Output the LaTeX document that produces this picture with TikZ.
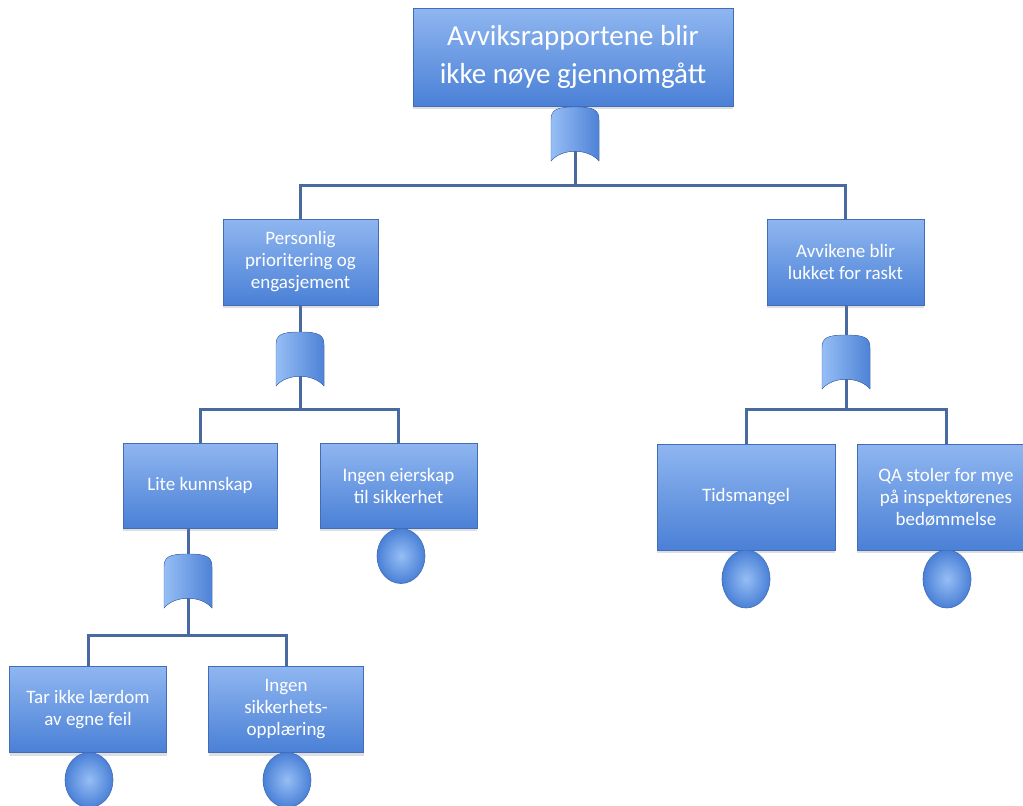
\documentclass[tikz,border=0pt]{standalone}
\usepackage{fontspec}
\setmainfont{Carlito}
\usetikzlibrary{backgrounds,shadows,shapes.geometric}

\definecolor{boxtop}{RGB}{143,182,240}
\definecolor{boxbot}{RGB}{74,128,214}
\definecolor{boxedge}{RGB}{66,108,184}
\definecolor{wire}{RGB}{72,106,160}
\definecolor{gateL}{RGB}{150,190,245}
\definecolor{gateR}{RGB}{78,130,215}

\tikzset{
  x=1pt, y=-1pt,
  event/.style={rectangle, draw=boxedge, line width=0.8pt,
    top color=boxtop, bottom color=boxbot, text=white, align=center,
    font=\fontsize{19}{22}\selectfont, inner sep=2pt,
    drop shadow={opacity=0.25, shadow xshift=0pt, shadow yshift=-3pt}},
  topevent/.style={event, font=\fontsize{29}{38}\selectfont,
    minimum width=320pt, minimum height=98pt},
  gatebody/.style={left color=gateL, right color=gateR,
    draw=boxedge, line width=0.4pt},
  basicevent/.style={ellipse, minimum width=48pt, minimum height=55pt,
    inner sep=0pt, draw=boxedge, line width=0.6pt,
    inner color=gateL, outer color=boxbot},
  wireline/.style={draw=wire, line width=3pt},
  % OR gate: rounded top, concave bottom; its anchor node is <name>-g
  pics/orgate/.style={code={
    \fill[gatebody]
      (-24,27) -- (-24,-14)
      .. controls (-24,-24) and (-19,-27) .. (0,-27)
      .. controls (19,-27) and (24,-24) .. (24,-14)
      -- (24,27)
      .. controls (13,14) and (-13,14) .. (-24,27) -- cycle;
    \node[inner sep=0pt, minimum width=48pt, minimum height=54pt] (-g) at (0,0) {};
  }}
}

\begin{document}
\begin{tikzpicture}
\useasboundingbox (0,0) rectangle (1023,806);

% top event and its gate
\node[topevent] (top) at (573,57) {Avviksrapportene blir\\ikke nøye gjennomgått};
\pic (g0) at (575,134) {orgate};

% second level
\node[event, minimum width=155pt, minimum height=86pt] (pers) at (300.5,262)
  {Personlig\\prioritering og\\engasjement};
\node[event, minimum width=157pt, minimum height=86pt] (avv) at (845.5,262)
  {Avvikene blir\\lukket for raskt};
\pic (g1) at (300,359) {orgate};
\pic (g3) at (846,362) {orgate};

% third level, left branch
\node[event, minimum width=154pt, minimum height=85pt] (lite) at (200,485.5)
  {Lite kunnskap};
\node[event, minimum width=157pt, minimum height=85pt] (eier) at (398.5,485.5)
  {Ingen eierskap\\til sikkerhet};
\node[basicevent] (c1) at (401,556) {};
\pic (g2) at (188,581) {orgate};

% fourth level
\node[event, minimum width=157pt, minimum height=86pt] (tar) at (88,709.5)
  {Tar ikke lærdom\\av egne feil};
\node[event, minimum width=155pt, minimum height=86pt] (sikk) at (286,709.5)
  {Ingen\\sikkerhets-\\opplæring};
\node[basicevent] (c2) at (89,780) {};
\node[basicevent] (c3) at (287,780) {};

% third level, right branch
\node[event, minimum width=178pt, minimum height=106pt] (tids) at (746,497)
  {Tidsmangel};
\node[event, minimum width=178pt, minimum height=106pt] (qa) at (946,497)
  {QA stoler for mye\\på inspektørenes\\bedømmelse};
\node[basicevent, minimum height=58pt] (c4) at (746,579) {};
\node[basicevent, minimum height=58pt] (c5) at (947,579) {};

% branching points
\coordinate (b0) at (g0-g.center |- 0,185);
\coordinate (b1) at (g1-g.center |- 0,409);
\coordinate (b2) at (g2-g.center |- 0,635);
\coordinate (b3) at (g3-g.center |- 0,409);

\begin{scope}[on background layer]
  \fill[white] (0,0) rectangle (1023,806);
  \draw[wireline] (g0-g.center |- top.south) -- (g0-g.center) -- (b0) -| (pers.north);
  \draw[wireline] (b0) -| (avv.north);
  \draw[wireline] (g1-g.center |- pers.south) -- (g1-g.center) -- (b1) -| (lite.north);
  \draw[wireline] (b1) -| (eier.north);
  \draw[wireline] (g2-g.center |- lite.south) -- (g2-g.center) -- (b2) -| (tar.north);
  \draw[wireline] (b2) -| (sikk.north);
  \draw[wireline] (g3-g.center |- avv.south) -- (g3-g.center) -- (b3) -| (tids.north);
  \draw[wireline] (b3) -| (qa.north);
\end{scope}
\end{tikzpicture}
\end{document}
